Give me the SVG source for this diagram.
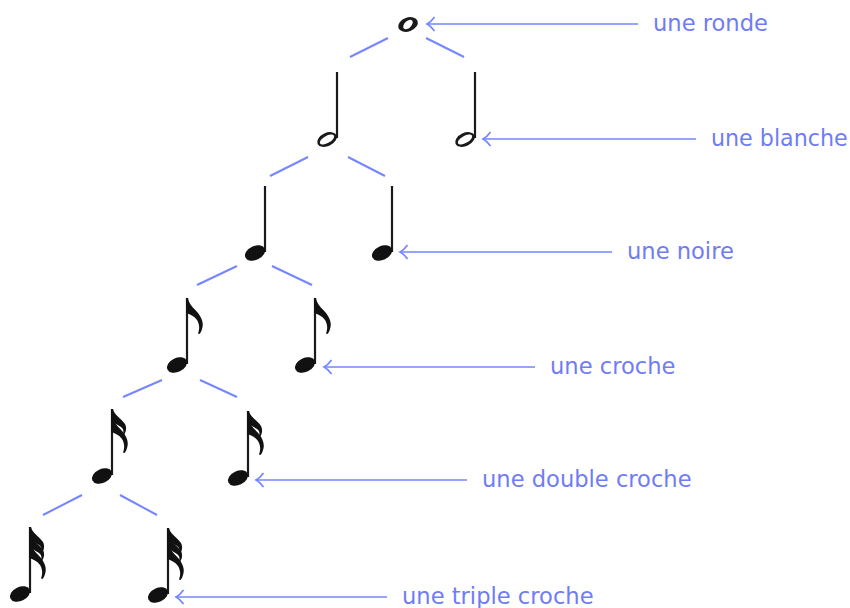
<svg xmlns="http://www.w3.org/2000/svg" xmlns:xlink="http://www.w3.org/1999/xlink" width="850" height="608" viewBox="0 0 850 608">
<style>
.ln{stroke:#7486ff;stroke-width:2;fill:none;stroke-linecap:butt}
.arr{stroke:#7486ff;stroke-width:1.6;fill:none}
.lbl{font-family:"DejaVu Sans","Liberation Sans",sans-serif;font-size:22.6px;fill:#6f7cf6}
.stem{stroke:#1a1a1a;stroke-width:2.2}
.ink{fill:#111}
</style>
<defs>
<marker id="ah" markerUnits="userSpaceOnUse" markerWidth="12" markerHeight="18" refX="8" refY="8" orient="auto-start-reverse">
<path d="M0.5,1 Q4,6 8,8 Q4,10 0.5,15" fill="none" stroke="#7486ff" stroke-width="1.6"/>
</marker>
<path id="flag" d="M-1,0 L1,0 C2,7 7,10 11,15 C15,20 17,26 15,31 C14.5,33 13.5,35 12.5,36 L11,35.5 C12.5,31.5 13,27 10,22 C7,18 3,16 -1,15 Z"/>
<path id="flagS" d="M-1,0 L1,0 C2,6 9,9 13,15 C15,19 14,23 12,26 L11,25.5 C12,22 11.5,20 9,18 C6,16 2,14 -1,12 Z"/>
<g id="stemHead">
<line class="stem" x1="0" y1="0" x2="0" y2="66"/>
<ellipse class="ink" cx="-10" cy="67" rx="10.6" ry="7" transform="rotate(-25 -10 67)"/>
</g>
<g id="half">
<line class="stem" x1="0" y1="0" x2="0" y2="66"/>
<ellipse fill="#1a1a1a" cx="-10" cy="67.5" rx="10.4" ry="6.6" transform="rotate(-25 -10 67.5)"/>
<ellipse fill="#fff" cx="-10" cy="67.5" rx="8" ry="3.6" transform="rotate(-30 -10 67.5)"/>
</g>
<g id="eighth"><use xlink:href="#stemHead"/><use xlink:href="#flag" class="ink"/></g>
<g id="sixteenth"><use xlink:href="#stemHead"/><use xlink:href="#flagS" class="ink"/><use xlink:href="#flag" class="ink" y="8"/></g>
<g id="thirtysecond"><use xlink:href="#stemHead"/><use xlink:href="#flagS" class="ink"/><use xlink:href="#flagS" class="ink" y="8"/><use xlink:href="#flag" class="ink" y="16"/></g>
</defs>
<rect width="850" height="608" fill="#fff"/>

<g id="connectors">
<line class="ln" x1="350" y1="57" x2="388" y2="38"/>
<line class="ln" x1="426" y1="38" x2="464" y2="57"/>
<line class="ln" x1="270" y1="176" x2="308" y2="157"/>
<line class="ln" x1="348" y1="157" x2="385" y2="176"/>
<line class="ln" x1="197" y1="285" x2="237" y2="266"/>
<line class="ln" x1="272" y1="266" x2="312" y2="285"/>
<line class="ln" x1="123" y1="397" x2="162" y2="380"/>
<line class="ln" x1="200" y1="380" x2="237" y2="397"/>
<line class="ln" x1="43" y1="515" x2="82" y2="495"/>
<line class="ln" x1="120" y1="495" x2="157" y2="515"/>
<line class="arr" x1="427" y1="24" x2="638" y2="24" marker-start="url(#ah)"/>
<line class="arr" x1="483" y1="139" x2="696" y2="139" marker-start="url(#ah)"/>
<line class="arr" x1="400" y1="252" x2="612" y2="252" marker-start="url(#ah)"/>
<line class="arr" x1="324" y1="367" x2="535" y2="367" marker-start="url(#ah)"/>
<line class="arr" x1="256" y1="480" x2="467" y2="480" marker-start="url(#ah)"/>
<line class="arr" x1="176" y1="597" x2="387" y2="597" marker-start="url(#ah)"/>
</g>

<g id="ronde">
<ellipse fill="#1a1a1a" cx="408" cy="24.5" rx="10.2" ry="6.9" transform="rotate(-20 408 24.5)"/>
<ellipse fill="#fff" cx="408" cy="24.5" rx="5.8" ry="3.4" transform="rotate(-45 408 24.5)"/>
</g>
<g id="blanche1"><use xlink:href="#half" x="337" y="72"/></g>
<g id="blanche2"><use xlink:href="#half" x="475" y="72"/></g>
<g id="noire1"><use xlink:href="#stemHead" x="265" y="186"/></g>
<g id="noire2"><use xlink:href="#stemHead" x="392" y="186"/></g>
<g id="croche1"><use xlink:href="#eighth" x="187" y="298"/></g>
<g id="croche2"><use xlink:href="#eighth" x="315" y="298"/></g>
<g id="double1"><use xlink:href="#sixteenth" x="112" y="409"/></g>
<g id="double2"><use xlink:href="#sixteenth" x="248" y="411"/></g>
<g id="triple1"><use xlink:href="#thirtysecond" x="30" y="527"/></g>
<g id="triple2"><use xlink:href="#thirtysecond" x="168" y="528"/></g>

<g id="labels">
<text class="lbl" x="653" y="31">une ronde</text>
<text class="lbl" x="711" y="146" style="font-size:22.2px">une blanche</text>
<text class="lbl" x="627" y="259">une noire</text>
<text class="lbl" x="550" y="374">une croche</text>
<text class="lbl" x="482" y="487">une double croche</text>
<text class="lbl" x="402" y="604">une triple croche</text>
</g>
</svg>
